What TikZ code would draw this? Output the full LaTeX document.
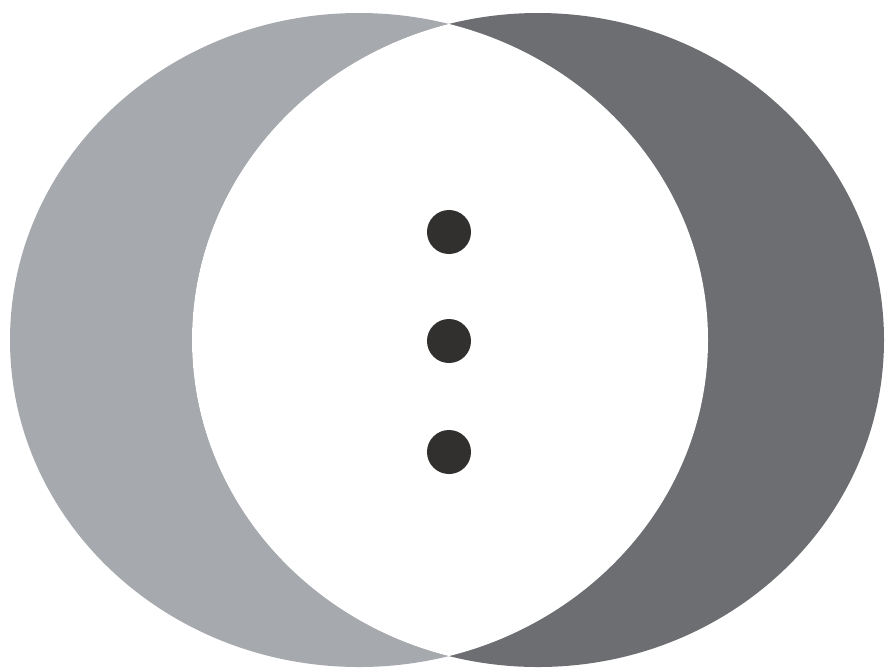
\documentclass[tikz,border=0pt]{standalone}
\usepackage{tikz}
\definecolor{grigiochiaro}{RGB}{166,169,173}
\definecolor{grigioscuro}{RGB}{108,110,113}
\definecolor{nerodot}{RGB}{50,48,46}
\begin{document}
\begin{tikzpicture}[
    x=0.01cm, y=-0.01cm,
    lente/.style={fill=white},
    punto/.style={circle, fill=nerodot, inner sep=0pt, minimum size=0.44cm}
]
    \useasboundingbox (0,0) rectangle (885,669);

    % 1. Ellissi
    \fill[grigiochiaro] (359,340) ellipse [x radius=349, y radius=327];
    \fill[grigioscuro] (538,340) ellipse [x radius=346, y radius=327];

    % 2. Intersezione bianca
    \begin{scope}
        \clip (359,340) ellipse [x radius=349, y radius=327];
        \fill[lente] (538,340) ellipse [x radius=346, y radius=327];
    \end{scope}

    % 3. Punti
    \node[punto] (P1) at (449,232) {};
    \node[punto] (P2) at (449,341) {};
    \node[punto] (P3) at (449,452) {};

\end{tikzpicture}
\end{document}
